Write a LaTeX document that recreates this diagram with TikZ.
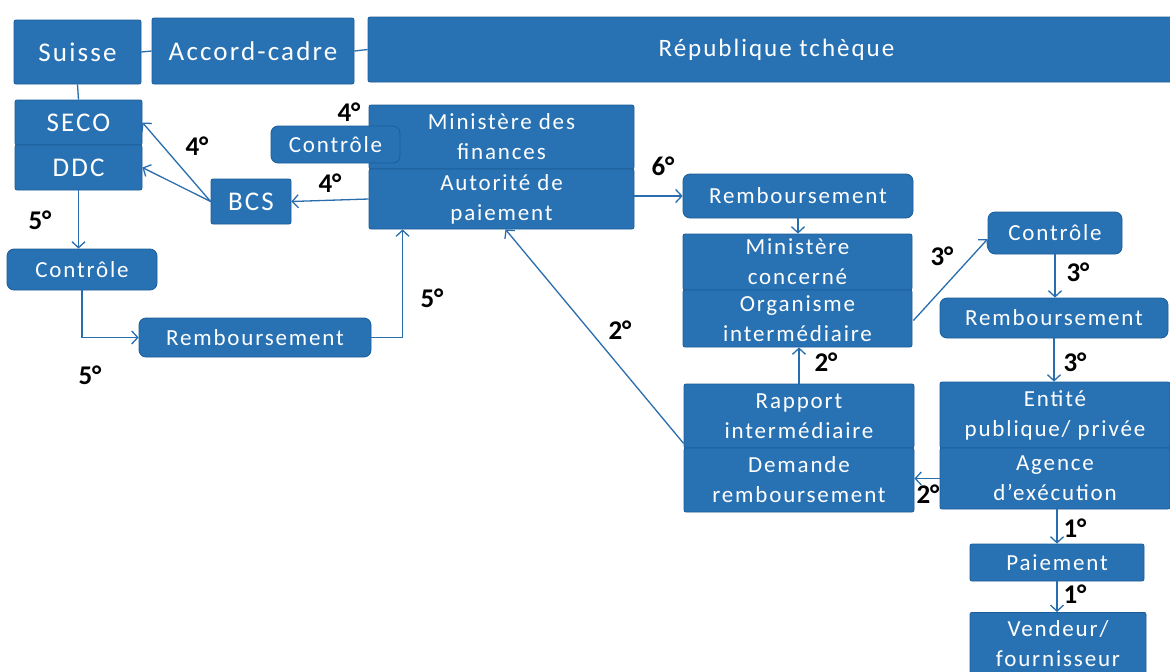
\documentclass[tikz,border=0pt]{standalone}
\usepackage{fontspec}
\setmainfont{Carlito}
\newfontfamily\boxfont{Carlito}[LetterSpace=8]
\usetikzlibrary{arrows.meta,calc}
\definecolor{boxblue}{RGB}{40,114,180}
\definecolor{boxedge}{RGB}{28,92,152}
\definecolor{lineblue}{RGB}{40,110,175}
\begin{document}
\begin{tikzpicture}[x=1pt,y=-1pt,
  box/.style={draw=boxedge, line width=0.8pt, fill=boxblue, text=white,
    font=\boxfont\fontsize{23}{30}\selectfont, align=center, inner sep=0pt, rounded corners=2pt},
  rbox/.style={box, rounded corners=7pt},
  big/.style={font=\boxfont\fontsize{27}{32}\selectfont},
  lab/.style={font=\bfseries\fontsize{27}{30}\selectfont, text=black, inner sep=0pt},
  conn/.style={draw=lineblue, line width=1.3pt},
  arr/.style={conn, -{Straight Barb[length=6pt,width=13pt,line width=1.3pt]}},
]
\useasboundingbox (0,0) rectangle (1170,672);
\fill[white] (0,0) rectangle (1170,672);

% top row
\node[box, big, minimum width=127pt, minimum height=64pt] (suisse) at (77.5,52) {Suisse};
\node[box, big, minimum width=202pt, minimum height=66pt] (accord) at (253,51) {Accord-cadre};
\node[box, font=\boxfont\fontsize{25}{30}\selectfont, minimum width=817pt, minimum height=65pt] (rep) at (776.5,49.5) {République tchèque};

% Swiss side
\node[box, big, minimum width=127pt, minimum height=45pt] (seco) at (78.5,122.5) {SECO};
\node[box, big, minimum width=127pt, minimum height=45pt] (ddc) at (78.5,167.5) {DDC};
\node[box, big, minimum width=80pt, minimum height=45pt] (bcs) at (251,201.5) {BCS};
\node[rbox, minimum width=150pt, minimum height=41pt] (ctrl2) at (82,269.5) {Contrôle};
\node[rbox, minimum width=232pt, minimum height=39pt] (remb1) at (255,337.5) {Remboursement};

% Ministry of finance
\node[box, minimum width=265pt, minimum height=64pt] (minfin) at (501.5,137) {Ministère des\\finances};
\node[box, minimum width=265pt, minimum height=60pt] (autpai) at (501.5,199) {Autorité de\\paiement};
\node[rbox, minimum width=129pt, minimum height=37pt] (ctrl1) at (335.5,144.5) {Contrôle};

% middle column
\node[rbox, minimum width=230pt, minimum height=44pt] (remb2) at (798,196) {Remboursement};
\node[box, minimum width=229pt, minimum height=56pt] (mincon) at (797.5,262) {Ministère\\concerné};
\node[box, minimum width=229pt, minimum height=57pt] (orgint) at (797.5,318.5) {Organisme\\intermédiaire};
\node[box, minimum width=230pt, minimum height=64pt] (rapport) at (799,416) {Rapport\\intermédiaire};
\node[box, minimum width=230pt, minimum height=64pt] (demande) at (799,480) {Demande\\remboursement};

% right column
\node[rbox, minimum width=134pt, minimum height=42pt] (ctrl3) at (1055,233) {Contrôle};
\node[rbox, minimum width=228pt, minimum height=40pt] (remb3) at (1054,318) {Remboursement};
\node[box, minimum width=230pt, minimum height=66pt] (entite) at (1055,415) {Entité\\publique/ privée};
\node[box, minimum width=230pt, minimum height=61pt] (agence) at (1055,478.5) {Agence\\d’exécution};
\node[box, minimum width=174pt, minimum height=37pt] (paiement) at (1057,562.5) {Paiement};
\node[box, anchor=north, minimum width=176pt, inner ysep=8pt] (vendeur) at (1058,612) {Vendeur/\\fournisseur};

% connectors
\draw[conn] (suisse.east) -- (accord.west);
\draw[conn] (accord.east) -- (rep.west);
\draw[conn] (suisse.south) -- (seco.north);
\draw[arr] (bcs.west) -- (seco.east);
\draw[arr] (bcs.west) -- (ddc.east);
\draw[arr] (autpai.west) -- (bcs.east);
\draw[arr] (ddc.south) -- (ddc.south |- ctrl2.north);
\draw[arr] (ctrl2.south) |- (remb1.west);
\coordinate (up5) at ($(autpai.south west)+(34,0)$);
\draw[arr] (remb1.east) -| (up5);
\draw[arr] ($(rapport.south west)+(0,-5)$) -- ($(autpai.south)+(4,0)$);
\draw[arr] (remb2.west -| autpai.east) -- (remb2.west);
\draw[arr] (remb2.south) -- (remb2.south |- mincon.north);
\draw[arr] ($(orgint.east)+(1,2)$) -- ($(ctrl3.west)+(0,6)$);
\draw[arr] (ctrl3.south) -- (ctrl3.south |- remb3.north);
\draw[arr] (remb3.south) -- (remb3.south |- entite.north);
\draw[arr] (agence.west) -- (agence.west -| demande.east);
\draw[arr] (rapport.north) -- (rapport.north |- orgint.south);
\draw[arr] (paiement.north |- agence.south) -- (paiement.north);
\draw[arr] (paiement.south) -- (paiement.south |- vendeur.north);

% step labels
\node[lab] (l4a) at (197,146) {4°};
\node[lab] (l4b) at (349,112) {4°};
\node[lab] (l4c) at (330,183) {4°};
\node[lab] (l5a) at (40,220) {5°};
\node[lab] (l5b) at (432,298) {5°};
\node[lab] (l5c) at (90,375) {5°};
\node[lab] (l6) at (663,166) {6°};
\node[lab] (l2a) at (620,330) {2°};
\node[lab] (l3a) at (942,256) {3°};
\node[lab] (l3b) at (1078,272) {3°};
\node[lab] (l3c) at (1075,362) {3°};
\node[lab] (l2b) at (826,362) {2°};
\node[lab] (l2c) at (928,494) {2°};
\node[lab] (l1a) at (1075,528) {1°};
\node[lab] (l1b) at (1075,594) {1°};
\end{tikzpicture}
\end{document}
